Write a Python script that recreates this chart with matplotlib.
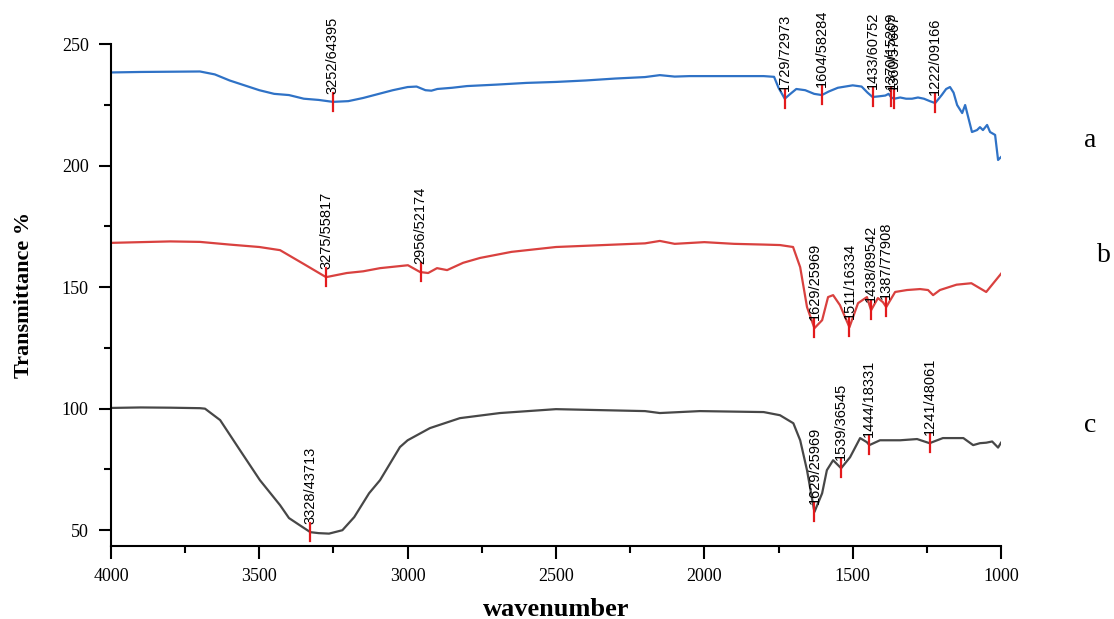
import numpy as np
import matplotlib
matplotlib.use("Agg")
import matplotlib.pyplot as plt
from matplotlib.ticker import MultipleLocator

# ---- data (wavenumber, transmittance) ----
wn_a = [4000, 3900, 3800, 3700, 3650, 3600, 3550, 3500, 3450, 3400, 3350, 3300, 3252, 3200,
        3150, 3100, 3050, 3000, 2970, 2940, 2920, 2900, 2850, 2800, 2700, 2600, 2500, 2400,
        2300, 2200, 2150, 2100, 2050, 2000, 1900, 1800, 1765, 1750, 1729, 1710, 1690, 1660,
        1630, 1604, 1580, 1550, 1500, 1470, 1450, 1433, 1410, 1390, 1379, 1370, 1360, 1340,
        1320, 1300, 1280, 1260, 1240, 1222, 1200, 1185, 1172, 1160, 1148, 1131, 1121, 1098,
        1081, 1071, 1061, 1047, 1037, 1020, 1010, 1000]
t_a = [238.3, 238.5, 238.6, 238.7, 237.5, 235.0, 233.0, 231.0, 229.5, 229.0, 227.5, 227.0, 226.2, 226.5,
       227.8, 229.4, 231.0, 232.3, 232.5, 231.0, 230.8, 231.5, 232.0, 232.7, 233.3, 234.0, 234.4, 235.0,
       235.8, 236.4, 237.2, 236.6, 236.8, 236.8, 236.8, 236.8, 236.5, 232.0, 227.5, 229.5, 231.5, 231.0,
       229.5, 229.0, 230.5, 232.0, 233.0, 232.5, 230.0, 228.2, 228.5, 228.8, 229.5, 228.0, 227.5, 228.0,
       227.5, 227.5, 228.0, 227.5, 226.5, 225.7, 229.0, 231.5, 232.3, 230.0, 224.9, 221.6, 224.9, 213.8,
       214.6, 215.8, 214.6, 216.7, 213.8, 212.6, 202.3, 203.5]

wn_b = [4000, 3900, 3800, 3700, 3600, 3500, 3430, 3350, 3275, 3205, 3150, 3093, 2999, 2958,
        2931, 2901, 2867, 2813, 2756, 2650, 2500, 2300, 2200, 2150, 2100, 2000, 1900, 1800,
        1745, 1701, 1677, 1654, 1629, 1603, 1583, 1566, 1543, 1511, 1482, 1452, 1438, 1415,
        1398, 1387, 1357, 1317, 1273, 1246, 1229, 1206, 1150, 1100, 1050, 1020, 1000]
t_b = [168.2, 168.5, 168.8, 168.6, 167.5, 166.5, 165.2, 159.5, 154.1, 155.8, 156.5, 157.8, 159.0, 156.2,
       155.8, 157.8, 157.0, 160.0, 162.0, 164.5, 166.5, 167.5, 168.0, 169.0, 167.8, 168.5, 167.8, 167.5,
       167.3, 166.5, 158.2, 141.8, 133.1, 136.4, 145.9, 146.7, 142.6, 133.5, 143.4, 145.9, 140.5, 145.5,
       143.8, 141.8, 148.0, 148.8, 149.2, 148.8, 146.7, 148.8, 151.0, 151.6, 148.0, 152.5, 155.5]

wn_c = [4000, 3900, 3800, 3700, 3683, 3632, 3565, 3498, 3430, 3400, 3363, 3328, 3300, 3265,
        3220, 3180, 3130, 3093, 3026, 3000, 2925, 2824, 2689, 2500, 2200, 2150, 2015, 1800,
        1745, 1700, 1677, 1654, 1629, 1603, 1587, 1566, 1539, 1509, 1475, 1452, 1444, 1408,
        1340, 1283, 1241, 1196, 1127, 1094, 1071, 1050, 1030, 1010, 1000]
t_c = [100.3, 100.5, 100.4, 100.2, 100.0, 95.3, 82.9, 70.6, 60.3, 55.0, 52.0, 49.2, 48.8, 48.6,
       50.0, 55.4, 65.2, 70.6, 84.2, 87.0, 92.0, 96.1, 98.2, 99.8, 99.0, 98.2, 99.0, 98.6,
       97.3, 94.0, 87.0, 74.7, 57.5, 65.2, 74.7, 78.8, 75.5, 80.0, 87.9, 86.2, 85.0, 87.0,
       87.0, 87.5, 85.8, 87.9, 87.9, 85.0, 85.8, 86.0, 86.5, 84.0, 86.0]

peaks_a = [3252, 1729, 1604, 1433, 1370, 1360, 1222]
labels_a = ["3252/64395", "1729/72973", "1604/58284", "1433/60752", "1370/15209", "1360/57667", "1222/09166"]
peaks_b = [3275, 2956, 1629, 1511, 1438, 1387]
labels_b = ["3275/55817", "2956/52174", "1629/25969", "1511/16334", "1438/89542", "1387/77908"]
peaks_c = [3328, 1629, 1539, 1444, 1241]
labels_c = ["3328/43713", "1629/25969", "1539/36545", "1444/18331", "1241/48061"]

series_names = ["a", "b", "c"]
colors = ["#2f72c6", "#d9413f", "#474747"]
marker_color = "#e31a1c"

fig = plt.figure(figsize=(11.14, 6.19), dpi=100)
ax = fig.add_axes([0.0996, 0.1179, 0.799, 0.811])

datasets = [(wn_a, t_a, peaks_a, labels_a), (wn_b, t_b, peaks_b, labels_b), (wn_c, t_c, peaks_c, labels_c)]
half = 3.7
for (wn, tr, pk, lb), col in zip(datasets, colors):
    ax.plot(wn, tr, color=col, lw=1.6, zorder=2)
    xs = np.array(wn)[::-1]
    ys = np.array(tr)[::-1]
    for p, l in zip(pk, lb):
        v = float(np.interp(p, xs, ys))
        ax.plot([p, p], [v - half, v + half], color=marker_color, lw=1.6, zorder=3)
        ax.text(p, v + half - 0.4, l, rotation=90, ha="center", va="bottom",
                fontsize=10.5, family="Liberation Sans", color="black", zorder=4)

ax.set_xlim(4000, 1000)
ax.set_ylim(43.5, 250)
ax.xaxis.set_major_locator(MultipleLocator(500))
ax.xaxis.set_minor_locator(MultipleLocator(250))
ax.yaxis.set_major_locator(MultipleLocator(50))
ax.yaxis.set_minor_locator(MultipleLocator(25))
ax.set_yticks([50, 100, 150, 200, 250])

for s in ["top", "right"]:
    ax.spines[s].set_visible(False)
for s in ["left", "bottom"]:
    ax.spines[s].set_linewidth(1.5)
ax.spines["left"].set_bounds(43.5, 250)

ax.tick_params(which="major", direction="out", length=9, width=1.5, labelsize=13, pad=7)
ax.tick_params(which="minor", direction="out", length=5, width=1.5)
for t in ax.get_xticklabels() + ax.get_yticklabels():
    t.set_family("Liberation Serif")

ax.set_xlabel("wavenumber", family="Liberation Serif", fontweight="bold", fontsize=19, labelpad=9)
ax.set_ylabel("Transmittance %", family="Liberation Serif", fontweight="bold", fontsize=16, labelpad=20)

letter_pos = [(1090, 140), (1104, 256), (1090, 425)]
for name, (px, py) in zip(series_names, letter_pos):
    fig.text(px / 1114, 1 - py / 619, name, ha="center", va="center",
             family="Liberation Serif", fontsize=20)

fig.savefig("out.png", dpi=100)
